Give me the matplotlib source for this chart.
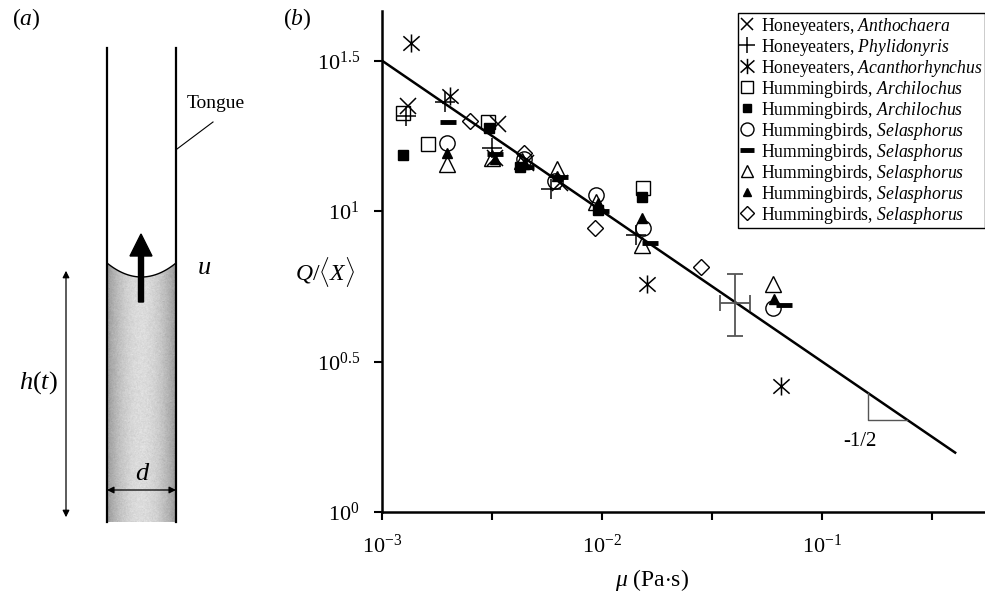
import matplotlib.pyplot as plt
import numpy as np
from matplotlib.path import Path
from matplotlib.patches import Polygon

plt.rcParams['font.family'] = ['Liberation Serif', 'DejaVu Serif']
plt.rcParams['mathtext.fontset'] = 'custom'
plt.rcParams['mathtext.rm'] = 'Liberation Serif'
plt.rcParams['mathtext.it'] = 'Liberation Serif:italic'
plt.rcParams['mathtext.bf'] = 'Liberation Serif:bold'

# viscosity mu (Pa s) and Q/<X>, one pair of lists per group
antho_mu = [0.00131, 0.00338, 0.00327, 0.00451, 0.00644]
antho_q = [22.3, 19.4, 15.0, 14.4, 12.4]
phyli_mu = [0.00129, 0.00193, 0.00316, 0.00587, 0.0143]
phyli_q = [20.7, 23.0, 16.2, 11.8, 8.32]
acanth_mu = [0.00135, 0.00204, 0.0161, 0.0651]
acanth_q = [36.2, 24.1, 5.72, 2.62]
archi_open_mu = [0.00125, 0.00162, 0.00304, 0.01535]
archi_open_q = [21.2, 16.7, 19.8, 11.9]
archi_fill_mu = [0.00124, 0.00308, 0.00424, 0.00959, 0.01528]
archi_fill_q = [15.4, 18.9, 14.0, 10.07, 11.1]
sela_circ_mu = [0.00197, 0.00442, 0.00611, 0.00944, 0.01535, 0.0598]
sela_circ_q = [16.9, 14.9, 12.6, 11.3, 8.79, 4.76]
sela_dash_mu = [0.0020, 0.00327, 0.00451, 0.00644, 0.0099, 0.01653, 0.0672]
sela_dash_q = [19.8, 15.5, 14.0, 13.0, 10.0, 7.83, 4.87]
sela_tri_mu = [0.00197, 0.00316, 0.00433, 0.00624, 0.00944, 0.01528, 0.0598]
sela_tri_q = [14.3, 15.0, 14.7, 13.8, 10.7, 7.71, 5.72]
sela_ftri_mu = [0.00197, 0.00327, 0.00442, 0.00624, 0.00959, 0.01528, 0.0605]
sela_ftri_q = [15.6, 14.9, 14.3, 13.1, 10.6, 9.48, 5.10]
sela_dia_mu = [0.00251, 0.00442, 0.00929, 0.0282]
sela_dia_q = [19.9, 15.6, 8.79, 6.52]

# mean point with error bars
eb_mu, eb_lo_mu, eb_hi_mu = 0.0403, 0.0344, 0.0471
eb_q, eb_lo_q, eb_hi_q = 4.96, 3.84, 6.16

# fitted power law Q ~ mu^-1/2
fit_a, fit_slope = 10 ** 1.5 / (1e-3) ** -0.5, -0.5
fit_range = [1e-3, 0.403]
tri_range = [0.162, 0.243]

W, H = 985, 598
fig = plt.figure(figsize=(W / 100, H / 100), dpi=100)

# ---------- panel (a): schematic of the tongue ----------
axa = fig.add_axes([0, 0, 250 / W, 1])
axa.set_xlim(0, 250)
axa.set_ylim(H, 0)
axa.axis('off')

wall_l, wall_r, top, bottom = 107, 176, 48, 522
men_edge, men_mid = 263, 277
xs = np.linspace(wall_l, wall_r, 60)
men = men_edge + (men_mid - men_edge) * (1 - ((xs - (wall_l + wall_r) / 2) / ((wall_r - wall_l) / 2)) ** 2)
poly = np.vstack([np.column_stack([xs, men]), [[wall_r, bottom], [wall_l, bottom]]])
clip = Polygon(poly, closed=True, facecolor='none', edgecolor='none')
axa.add_patch(clip)
grad = np.linspace(-1, 1, 200)
shade = 0.6 + 0.26 * (1 - grad ** 2)
rng = np.random.default_rng(1)
tex = shade[None, :] + rng.normal(0, 0.035, (300, 200))
img = axa.imshow(tex, cmap='gray', vmin=0, vmax=1, extent=[wall_l, wall_r, bottom, men_edge - 2],
                 aspect='auto', interpolation='bilinear')
img.set_clip_path(clip)
axa.plot(xs, men, color='black', lw=1)
axa.plot([wall_l, wall_l], [top, bottom], color='black', lw=1.6)
axa.plot([wall_r, wall_r], [top, bottom], color='black', lw=1.6)
axa.arrow(141, 302, 0, -68, width=5, head_width=22, head_length=22,
          length_includes_head=True, color='black')
axa.annotate('', xy=(66, 268), xytext=(66, 520),
             arrowprops=dict(arrowstyle='<|-|>', color='black', lw=0.9, mutation_scale=10))
axa.annotate('', xy=(wall_l, 490), xytext=(wall_r, 490),
             arrowprops=dict(arrowstyle='<|-|>', color='black', lw=0.9, mutation_scale=10,
                             shrinkA=0, shrinkB=0))
axa.plot([177, 213], [149, 122], color='black', lw=0.8)
axa.text(187, 103, 'Tongue', fontsize=14, va='center', ha='left')
axa.text(197, 268, '$u$', fontsize=19, va='center', ha='left')
axa.text(38, 383, '$h(t)$', fontsize=19, va='center', ha='center')
axa.text(143, 474, '$d$', fontsize=19, va='center', ha='center')
axa.text(12, 19, '($a$)', fontsize=17, va='center', ha='left')

# ---------- panel (b): log-log plot ----------
ax = fig.add_axes([382 / W, 1 - 512 / H, (W - 382) / W, (512 - 11) / H])
ax.set_xscale('log')
ax.set_yscale('log')
ax.set_xlim(1e-3, 10 ** -0.259)
ax.set_ylim(1, 10 ** 1.665)

fit_mu = np.array(fit_range)
ax.plot(fit_mu, fit_a * fit_mu ** fit_slope, color='black', lw=1.8, zorder=1)
tri_mu = np.array(tri_range)
tri_q = fit_a * tri_mu ** fit_slope
ax.plot([tri_mu[0], tri_mu[0], tri_mu[1]], [tri_q[0], tri_q[1], tri_q[1]], color='#555555', lw=1)

ax.errorbar([eb_mu], [eb_q], xerr=[[eb_mu - eb_lo_mu], [eb_hi_mu - eb_mu]],
            yerr=[[eb_q - eb_lo_q], [eb_hi_q - eb_q]], fmt='none', ecolor='#555555',
            elinewidth=1.3, capsize=6, capthick=1.3)

ast = Path([(0, -1), (0, 1), (-0.9, -0.8), (0.9, 0.8), (-0.9, 0.8), (0.9, -0.8)],
           [Path.MOVETO, Path.LINETO, Path.MOVETO, Path.LINETO, Path.MOVETO, Path.LINETO])
series = [
    (antho_mu, antho_q, 'Honeyeaters, $\\it{Anthochaera}$', dict(marker='x', ms=11, mew=1.1)),
    (phyli_mu, phyli_q, 'Honeyeaters, $\\it{Phylidonyris}$', dict(marker='+', ms=14, mew=1.1)),
    (acanth_mu, acanth_q, 'Honeyeaters, $\\it{Acanthorhynchus}$', dict(marker=ast, ms=13, mew=1.1)),
    (archi_open_mu, archi_open_q, 'Hummingbirds, $\\it{Archilochus}$', dict(marker='s', ms=10, mfc='none', mew=1)),
    (archi_fill_mu, archi_fill_q, 'Hummingbirds, $\\it{Archilochus}$', dict(marker='s', ms=7)),
    (sela_circ_mu, sela_circ_q, 'Hummingbirds, $\\it{Selasphorus}$', dict(marker='o', ms=11, mfc='none', mew=1)),
    (sela_dash_mu, sela_dash_q, 'Hummingbirds, $\\it{Selasphorus}$', dict(marker='_', ms=12, mew=3.5)),
    (sela_tri_mu, sela_tri_q, 'Hummingbirds, $\\it{Selasphorus}$', dict(marker='^', ms=11, mfc='none', mew=1)),
    (sela_ftri_mu, sela_ftri_q, 'Hummingbirds, $\\it{Selasphorus}$', dict(marker='^', ms=7)),
    (sela_dia_mu, sela_dia_q, 'Hummingbirds, $\\it{Selasphorus}$', dict(marker='D', ms=8, mfc='none', mew=1)),
]
for mu, q, lab, st in series:
    ax.plot(mu, q, linestyle='none', color='black', label=lab, zorder=3, **st)

leg = ax.legend(loc='upper right', bbox_to_anchor=(1.0, 1 - 2 / (512 - 11)), fontsize=12.7,
                frameon=True, fancybox=False, edgecolor='black', framealpha=1,
                handlelength=0.8, handletextpad=0.35, labelspacing=0.0, borderpad=0.15,
                borderaxespad=0, markerscale=0.85)
leg.get_frame().set_linewidth(1)

for s in ['top', 'right']:
    ax.spines[s].set_visible(False)
for s in ['left', 'bottom']:
    ax.spines[s].set_linewidth(1.8)

yt = [1, 10 ** 0.5, 10, 10 ** 1.5]
ax.set_yticks(yt)
ax.set_yticklabels(['$10^{0}$', '$10^{0.5}$', '$10^{1}$', '$10^{1.5}$'])
xt = 10.0 ** np.arange(-3, -0.4, 0.5)
ax.set_xticks(xt)
ax.set_xticklabels(['$10^{-3}$', '', '$10^{-2}$', '', '$10^{-1}$', ''])
ax.minorticks_off()
ax.tick_params(axis='both', direction='out', length=6, width=1.5, labelsize=16)
ax.tick_params(axis='x', pad=10)
ax.tick_params(axis='y', pad=10)

fig.text(355 / W, 1 - 272 / H, r'$Q/\langle X\rangle$', fontsize=17, ha='right', va='center')
fig.text(652 / W, 1 - 580 / H, r'$\mu$ (Pa$\cdot$s)', fontsize=17, ha='center', va='center')
fig.text(860 / W, 1 - 442 / H, '-1/2', fontsize=15, ha='center', va='center')
fig.text(297 / W, 1 - 19 / H, '($b$)', fontsize=17, ha='center', va='center')

fig.savefig('out.png', dpi=100)
